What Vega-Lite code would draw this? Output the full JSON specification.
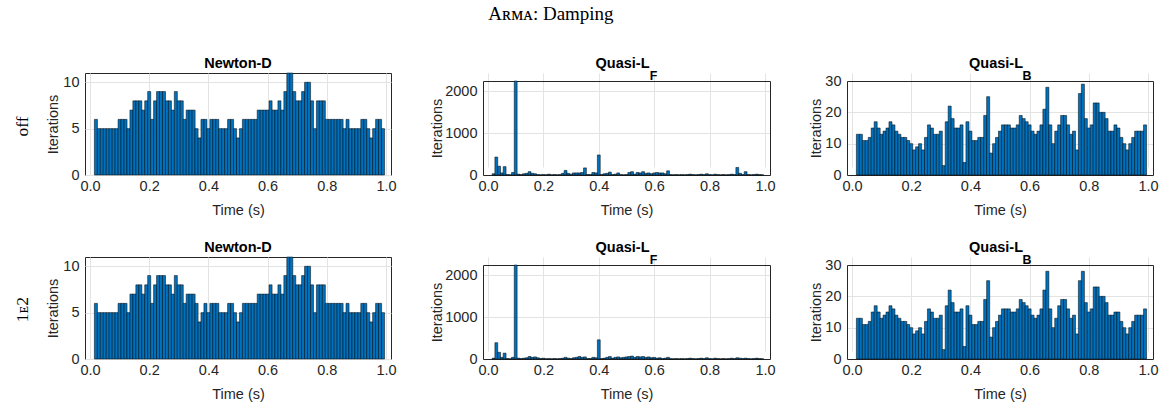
{
"$schema": "https://vega.github.io/schema/vega-lite/v6.json",
"usermeta": {"embedOptions": {"actions": false}},
"background": "white",
"padding": {"left": 13, "top": 5, "right": 2, "bottom": 0},
"title": {"text": "Aʀᴍᴀ: Damping", "font": "Liberation Serif, DejaVu Serif", "fontSize": 19, "fontWeight": "normal", "color": "#000", "anchor": "middle", "offset": 31, "dx": -35},
"config": {
  "font": "Liberation Sans",
  "view": {"stroke": "#262626", "strokeWidth": 1},
  "axis": {"domain": false, "ticks": false, "grid": true, "gridColor": "#e3e3e3", "gridWidth": 1, "labelFont": "Liberation Sans", "labelFontSize": 14.5, "labelColor": "#262626", "titleFont": "Liberation Sans", "titleFontSize": 14.5, "titleFontWeight": "normal", "titleColor": "#262626", "labelFlush": false, "labelOverlap": false, "domainColor": "#262626", "domainWidth": 1},
  "axisX": {"labelPadding": 4, "titlePadding": 11},
  "axisY": {"labelPadding": 6, "titlePadding": 2},
  "bar": {"fill": "#0072BD", "stroke": "#000", "strokeWidth": 0.5}
},
"datasets": {
"nd_off": [{"t":0.02,"n":6},{"t":0.03,"n":5},{"t":0.04,"n":5},{"t":0.05,"n":5},{"t":0.06,"n":5},{"t":0.07,"n":5},{"t":0.08,"n":5},{"t":0.09,"n":5},{"t":0.1,"n":6},{"t":0.11,"n":6},{"t":0.12,"n":6},{"t":0.13,"n":5},{"t":0.14,"n":7},{"t":0.15,"n":8},{"t":0.16,"n":8},{"t":0.17,"n":8},{"t":0.18,"n":7},{"t":0.19,"n":8},{"t":0.2,"n":9},{"t":0.21,"n":6},{"t":0.22,"n":8},{"t":0.23,"n":9},{"t":0.24,"n":9},{"t":0.25,"n":9},{"t":0.26,"n":8},{"t":0.27,"n":8},{"t":0.28,"n":7},{"t":0.29,"n":9},{"t":0.3,"n":8},{"t":0.31,"n":8},{"t":0.32,"n":6},{"t":0.33,"n":7},{"t":0.34,"n":7},{"t":0.35,"n":7},{"t":0.36,"n":5},{"t":0.37,"n":4},{"t":0.38,"n":6},{"t":0.39,"n":6},{"t":0.4,"n":5},{"t":0.41,"n":6},{"t":0.42,"n":6},{"t":0.43,"n":6},{"t":0.44,"n":5},{"t":0.45,"n":5},{"t":0.46,"n":5},{"t":0.47,"n":6},{"t":0.48,"n":6},{"t":0.49,"n":5},{"t":0.5,"n":4},{"t":0.51,"n":5},{"t":0.52,"n":6},{"t":0.53,"n":6},{"t":0.54,"n":6},{"t":0.55,"n":6},{"t":0.56,"n":6},{"t":0.57,"n":7},{"t":0.58,"n":7},{"t":0.59,"n":7},{"t":0.6,"n":7},{"t":0.61,"n":8},{"t":0.62,"n":7},{"t":0.63,"n":7},{"t":0.64,"n":8},{"t":0.65,"n":7},{"t":0.66,"n":9},{"t":0.67,"n":11},{"t":0.68,"n":11},{"t":0.69,"n":9},{"t":0.7,"n":8},{"t":0.71,"n":8},{"t":0.72,"n":9},{"t":0.73,"n":10},{"t":0.74,"n":10},{"t":0.75,"n":8},{"t":0.76,"n":5},{"t":0.77,"n":8},{"t":0.78,"n":8},{"t":0.79,"n":8},{"t":0.8,"n":6},{"t":0.81,"n":6},{"t":0.82,"n":6},{"t":0.83,"n":6},{"t":0.84,"n":6},{"t":0.85,"n":6},{"t":0.86,"n":5},{"t":0.87,"n":6},{"t":0.88,"n":5},{"t":0.89,"n":5},{"t":0.9,"n":5},{"t":0.91,"n":5},{"t":0.92,"n":6},{"t":0.93,"n":6},{"t":0.94,"n":5},{"t":0.95,"n":4},{"t":0.96,"n":5},{"t":0.97,"n":6},{"t":0.98,"n":6},{"t":0.99,"n":5}],
"nd_1e2": [{"t":0.02,"n":6},{"t":0.03,"n":5},{"t":0.04,"n":5},{"t":0.05,"n":5},{"t":0.06,"n":5},{"t":0.07,"n":5},{"t":0.08,"n":5},{"t":0.09,"n":5},{"t":0.1,"n":6},{"t":0.11,"n":6},{"t":0.12,"n":6},{"t":0.13,"n":5},{"t":0.14,"n":7},{"t":0.15,"n":7},{"t":0.16,"n":8},{"t":0.17,"n":8},{"t":0.18,"n":7},{"t":0.19,"n":8},{"t":0.2,"n":9},{"t":0.21,"n":6},{"t":0.22,"n":8},{"t":0.23,"n":9},{"t":0.24,"n":9},{"t":0.25,"n":9},{"t":0.26,"n":8},{"t":0.27,"n":8},{"t":0.28,"n":7},{"t":0.29,"n":9},{"t":0.3,"n":8},{"t":0.31,"n":8},{"t":0.32,"n":6},{"t":0.33,"n":7},{"t":0.34,"n":7},{"t":0.35,"n":7},{"t":0.36,"n":6},{"t":0.37,"n":4},{"t":0.38,"n":5},{"t":0.39,"n":6},{"t":0.4,"n":5},{"t":0.41,"n":6},{"t":0.42,"n":6},{"t":0.43,"n":6},{"t":0.44,"n":5},{"t":0.45,"n":5},{"t":0.46,"n":5},{"t":0.47,"n":6},{"t":0.48,"n":6},{"t":0.49,"n":5},{"t":0.5,"n":4},{"t":0.51,"n":5},{"t":0.52,"n":6},{"t":0.53,"n":6},{"t":0.54,"n":6},{"t":0.55,"n":6},{"t":0.56,"n":6},{"t":0.57,"n":7},{"t":0.58,"n":7},{"t":0.59,"n":7},{"t":0.6,"n":7},{"t":0.61,"n":8},{"t":0.62,"n":7},{"t":0.63,"n":7},{"t":0.64,"n":8},{"t":0.65,"n":7},{"t":0.66,"n":9},{"t":0.67,"n":11},{"t":0.68,"n":11},{"t":0.69,"n":9},{"t":0.7,"n":8},{"t":0.71,"n":8},{"t":0.72,"n":9},{"t":0.73,"n":10},{"t":0.74,"n":10},{"t":0.75,"n":8},{"t":0.76,"n":5},{"t":0.77,"n":8},{"t":0.78,"n":8},{"t":0.79,"n":8},{"t":0.8,"n":6},{"t":0.81,"n":6},{"t":0.82,"n":6},{"t":0.83,"n":6},{"t":0.84,"n":6},{"t":0.85,"n":6},{"t":0.86,"n":5},{"t":0.87,"n":6},{"t":0.88,"n":5},{"t":0.89,"n":5},{"t":0.9,"n":5},{"t":0.91,"n":5},{"t":0.92,"n":6},{"t":0.93,"n":6},{"t":0.94,"n":5},{"t":0.95,"n":4},{"t":0.96,"n":5},{"t":0.97,"n":6},{"t":0.98,"n":6},{"t":0.99,"n":5}],
"lf_off": [{"t":0.02,"n":30},{"t":0.03,"n":430},{"t":0.04,"n":210},{"t":0.05,"n":50},{"t":0.06,"n":200},{"t":0.07,"n":10},{"t":0.08,"n":5},{"t":0.09,"n":60},{"t":0.1,"n":2250},{"t":0.11,"n":20},{"t":0.12,"n":10},{"t":0.13,"n":30},{"t":0.14,"n":40},{"t":0.15,"n":80},{"t":0.16,"n":40},{"t":0.17,"n":30},{"t":0.18,"n":10},{"t":0.19,"n":5},{"t":0.2,"n":10},{"t":0.21,"n":5},{"t":0.22,"n":20},{"t":0.23,"n":5},{"t":0.24,"n":10},{"t":0.25,"n":5},{"t":0.26,"n":10},{"t":0.27,"n":40},{"t":0.28,"n":110},{"t":0.29,"n":40},{"t":0.3,"n":20},{"t":0.31,"n":50},{"t":0.32,"n":50},{"t":0.33,"n":50},{"t":0.34,"n":60},{"t":0.35,"n":170},{"t":0.36,"n":10},{"t":0.37,"n":10},{"t":0.38,"n":60},{"t":0.39,"n":50},{"t":0.4,"n":480},{"t":0.41,"n":10},{"t":0.42,"n":30},{"t":0.43,"n":40},{"t":0.44,"n":70},{"t":0.45,"n":10},{"t":0.46,"n":20},{"t":0.47,"n":50},{"t":0.48,"n":10},{"t":0.49,"n":5},{"t":0.5,"n":10},{"t":0.51,"n":60},{"t":0.52,"n":80},{"t":0.53,"n":20},{"t":0.54,"n":60},{"t":0.55,"n":50},{"t":0.56,"n":80},{"t":0.57,"n":40},{"t":0.58,"n":50},{"t":0.59,"n":30},{"t":0.6,"n":50},{"t":0.61,"n":60},{"t":0.62,"n":50},{"t":0.63,"n":50},{"t":0.64,"n":30},{"t":0.65,"n":100},{"t":0.66,"n":10},{"t":0.67,"n":5},{"t":0.68,"n":10},{"t":0.69,"n":5},{"t":0.7,"n":10},{"t":0.71,"n":5},{"t":0.72,"n":10},{"t":0.73,"n":20},{"t":0.74,"n":10},{"t":0.75,"n":5},{"t":0.76,"n":10},{"t":0.77,"n":20},{"t":0.78,"n":10},{"t":0.79,"n":30},{"t":0.8,"n":10},{"t":0.81,"n":5},{"t":0.82,"n":20},{"t":0.83,"n":10},{"t":0.84,"n":5},{"t":0.85,"n":10},{"t":0.86,"n":5},{"t":0.87,"n":10},{"t":0.88,"n":20},{"t":0.89,"n":10},{"t":0.9,"n":180},{"t":0.91,"n":40},{"t":0.92,"n":10},{"t":0.93,"n":80},{"t":0.94,"n":10},{"t":0.95,"n":5},{"t":0.96,"n":10},{"t":0.97,"n":20},{"t":0.98,"n":10},{"t":0.99,"n":5}],
"lf_1e2": [{"t":0.02,"n":20},{"t":0.03,"n":390},{"t":0.04,"n":160},{"t":0.05,"n":40},{"t":0.06,"n":140},{"t":0.07,"n":10},{"t":0.08,"n":5},{"t":0.09,"n":40},{"t":0.1,"n":2250},{"t":0.11,"n":20},{"t":0.12,"n":10},{"t":0.13,"n":20},{"t":0.14,"n":30},{"t":0.15,"n":60},{"t":0.16,"n":40},{"t":0.17,"n":50},{"t":0.18,"n":30},{"t":0.19,"n":10},{"t":0.2,"n":20},{"t":0.21,"n":5},{"t":0.22,"n":10},{"t":0.23,"n":5},{"t":0.24,"n":10},{"t":0.25,"n":5},{"t":0.26,"n":10},{"t":0.27,"n":20},{"t":0.28,"n":40},{"t":0.29,"n":20},{"t":0.3,"n":10},{"t":0.31,"n":30},{"t":0.32,"n":40},{"t":0.33,"n":60},{"t":0.34,"n":40},{"t":0.35,"n":50},{"t":0.36,"n":10},{"t":0.37,"n":10},{"t":0.38,"n":40},{"t":0.39,"n":30},{"t":0.4,"n":460},{"t":0.41,"n":10},{"t":0.42,"n":20},{"t":0.43,"n":40},{"t":0.44,"n":60},{"t":0.45,"n":20},{"t":0.46,"n":40},{"t":0.47,"n":50},{"t":0.48,"n":30},{"t":0.49,"n":40},{"t":0.5,"n":50},{"t":0.51,"n":60},{"t":0.52,"n":70},{"t":0.53,"n":40},{"t":0.54,"n":60},{"t":0.55,"n":50},{"t":0.56,"n":60},{"t":0.57,"n":40},{"t":0.58,"n":50},{"t":0.59,"n":30},{"t":0.6,"n":40},{"t":0.61,"n":20},{"t":0.62,"n":30},{"t":0.63,"n":10},{"t":0.64,"n":20},{"t":0.65,"n":40},{"t":0.66,"n":10},{"t":0.67,"n":5},{"t":0.68,"n":10},{"t":0.69,"n":5},{"t":0.7,"n":10},{"t":0.71,"n":5},{"t":0.72,"n":10},{"t":0.73,"n":20},{"t":0.74,"n":10},{"t":0.75,"n":5},{"t":0.76,"n":10},{"t":0.77,"n":20},{"t":0.78,"n":10},{"t":0.79,"n":30},{"t":0.8,"n":10},{"t":0.81,"n":5},{"t":0.82,"n":20},{"t":0.83,"n":10},{"t":0.84,"n":5},{"t":0.85,"n":10},{"t":0.86,"n":5},{"t":0.87,"n":10},{"t":0.88,"n":20},{"t":0.89,"n":10},{"t":0.9,"n":30},{"t":0.91,"n":20},{"t":0.92,"n":10},{"t":0.93,"n":20},{"t":0.94,"n":10},{"t":0.95,"n":5},{"t":0.96,"n":10},{"t":0.97,"n":20},{"t":0.98,"n":10},{"t":0.99,"n":5}],
"lb_off": [{"t":0.02,"n":13},{"t":0.03,"n":13},{"t":0.04,"n":11},{"t":0.05,"n":11},{"t":0.06,"n":12},{"t":0.07,"n":15},{"t":0.08,"n":17},{"t":0.09,"n":15},{"t":0.1,"n":13},{"t":0.11,"n":14},{"t":0.12,"n":15},{"t":0.13,"n":17},{"t":0.14,"n":16},{"t":0.15,"n":14},{"t":0.16,"n":13},{"t":0.17,"n":12},{"t":0.18,"n":12},{"t":0.19,"n":11},{"t":0.2,"n":10},{"t":0.21,"n":8},{"t":0.22,"n":9},{"t":0.23,"n":10},{"t":0.24,"n":8},{"t":0.25,"n":12},{"t":0.26,"n":16},{"t":0.27,"n":15},{"t":0.28,"n":13},{"t":0.29,"n":13},{"t":0.3,"n":14},{"t":0.31,"n":3},{"t":0.32,"n":17},{"t":0.33,"n":22},{"t":0.34,"n":18},{"t":0.35,"n":15},{"t":0.36,"n":15},{"t":0.37,"n":16},{"t":0.38,"n":4},{"t":0.39,"n":17},{"t":0.4,"n":14},{"t":0.41,"n":11},{"t":0.42,"n":11},{"t":0.43,"n":12},{"t":0.44,"n":12},{"t":0.45,"n":19},{"t":0.46,"n":25},{"t":0.47,"n":7},{"t":0.48,"n":10},{"t":0.49,"n":12},{"t":0.5,"n":14},{"t":0.51,"n":16},{"t":0.52,"n":16},{"t":0.53,"n":16},{"t":0.54,"n":15},{"t":0.55,"n":15},{"t":0.56,"n":16},{"t":0.57,"n":19},{"t":0.58,"n":18},{"t":0.59,"n":17},{"t":0.6,"n":16},{"t":0.61,"n":14},{"t":0.62,"n":13},{"t":0.63,"n":14},{"t":0.64,"n":16},{"t":0.65,"n":21},{"t":0.66,"n":28},{"t":0.67,"n":16},{"t":0.68,"n":10},{"t":0.69,"n":14},{"t":0.7,"n":16},{"t":0.71,"n":19},{"t":0.72,"n":19},{"t":0.73,"n":16},{"t":0.74,"n":13},{"t":0.75,"n":14},{"t":0.76,"n":8},{"t":0.77,"n":26},{"t":0.78,"n":29},{"t":0.79,"n":18},{"t":0.8,"n":15},{"t":0.81,"n":16},{"t":0.82,"n":23},{"t":0.83,"n":23},{"t":0.84,"n":20},{"t":0.85,"n":20},{"t":0.86,"n":18},{"t":0.87,"n":14},{"t":0.88,"n":14},{"t":0.89,"n":16},{"t":0.9,"n":15},{"t":0.91,"n":12},{"t":0.92,"n":10},{"t":0.93,"n":8},{"t":0.94,"n":10},{"t":0.95,"n":12},{"t":0.96,"n":14},{"t":0.97,"n":14},{"t":0.98,"n":14},{"t":0.99,"n":16}],
"lb_1e2": [{"t":0.02,"n":13},{"t":0.03,"n":13},{"t":0.04,"n":11},{"t":0.05,"n":11},{"t":0.06,"n":12},{"t":0.07,"n":15},{"t":0.08,"n":17},{"t":0.09,"n":15},{"t":0.1,"n":13},{"t":0.11,"n":14},{"t":0.12,"n":15},{"t":0.13,"n":17},{"t":0.14,"n":16},{"t":0.15,"n":14},{"t":0.16,"n":13},{"t":0.17,"n":12},{"t":0.18,"n":12},{"t":0.19,"n":11},{"t":0.2,"n":10},{"t":0.21,"n":8},{"t":0.22,"n":9},{"t":0.23,"n":10},{"t":0.24,"n":8},{"t":0.25,"n":12},{"t":0.26,"n":16},{"t":0.27,"n":15},{"t":0.28,"n":13},{"t":0.29,"n":13},{"t":0.3,"n":14},{"t":0.31,"n":3},{"t":0.32,"n":17},{"t":0.33,"n":22},{"t":0.34,"n":18},{"t":0.35,"n":15},{"t":0.36,"n":15},{"t":0.37,"n":16},{"t":0.38,"n":4},{"t":0.39,"n":17},{"t":0.4,"n":14},{"t":0.41,"n":11},{"t":0.42,"n":11},{"t":0.43,"n":12},{"t":0.44,"n":12},{"t":0.45,"n":19},{"t":0.46,"n":25},{"t":0.47,"n":7},{"t":0.48,"n":10},{"t":0.49,"n":12},{"t":0.5,"n":14},{"t":0.51,"n":16},{"t":0.52,"n":16},{"t":0.53,"n":16},{"t":0.54,"n":15},{"t":0.55,"n":15},{"t":0.56,"n":16},{"t":0.57,"n":19},{"t":0.58,"n":18},{"t":0.59,"n":17},{"t":0.6,"n":16},{"t":0.61,"n":14},{"t":0.62,"n":13},{"t":0.63,"n":14},{"t":0.64,"n":16},{"t":0.65,"n":22},{"t":0.66,"n":28},{"t":0.67,"n":16},{"t":0.68,"n":10},{"t":0.69,"n":13},{"t":0.7,"n":17},{"t":0.71,"n":19},{"t":0.72,"n":19},{"t":0.73,"n":16},{"t":0.74,"n":13},{"t":0.75,"n":14},{"t":0.76,"n":8},{"t":0.77,"n":25},{"t":0.78,"n":28},{"t":0.79,"n":18},{"t":0.8,"n":15},{"t":0.81,"n":16},{"t":0.82,"n":23},{"t":0.83,"n":23},{"t":0.84,"n":20},{"t":0.85,"n":20},{"t":0.86,"n":18},{"t":0.87,"n":14},{"t":0.88,"n":14},{"t":0.89,"n":15},{"t":0.9,"n":15},{"t":0.91,"n":12},{"t":0.92,"n":10},{"t":0.93,"n":8},{"t":0.94,"n":10},{"t":0.95,"n":12},{"t":0.96,"n":14},{"t":0.97,"n":14},{"t":0.98,"n":14},{"t":0.99,"n":16}]
},
"spacing": 21,
"vconcat": [
 {"title": {"text": "\u200b\u00a0\u00a0\u00a0\u00a0\u00a0off", "orient": "left", "font": "Liberation Serif", "fontSize": 17.5, "fontWeight": "normal", "color": "#000", "offset": 14, "anchor": "middle", "dx": -1},
  "spacing": 32,
  "hconcat": [
   {"width": 306, "height": 102, "data": {"name": "nd_off"},
    "title": {"text": "Newton-D", "frame": "group", "font": "Liberation Sans", "fontSize": 14.5, "fontWeight": "bold", "color": "#000", "offset": 1.5},
    "mark": {"type": "bar", "size": 3.06},
    "encoding": {
     "x": {"field": "t", "type": "quantitative", "scale": {"domain": [0, 1], "nice": false}, "axis": {"title": "Time (s)", "values": [0, 0.2, 0.4, 0.6, 0.8, 1], "format": ".1f"}},
     "y": {"field": "n", "type": "quantitative", "scale": {"domain": [0, 11], "nice": false}, "axis": {"title": "Iterations", "values": [0, 5, 10]}}}},
   {"width": 287, "height": 102, "data": {"name": "lf_off"}, "view": {"stroke": null},
    "title": {"text": "Quasi-L", "subtitle": "\u200b\u00a0\u00a0\u00a0\u00a0\u00a0\u00a0\u00a0\u00a0\u00a0\u00a0\u00a0\u00a0\u00a0\u00a0\u00a0\u00a0\u00a0\u00a0F", "frame": "group", "font": "Liberation Sans", "fontSize": 14.5, "fontWeight": "bold", "color": "#000", "subtitleFont": "Liberation Sans", "subtitleFontSize": 12.4, "subtitleFontWeight": "bold", "subtitleColor": "#000", "subtitlePadding": -2, "offset": -10, "dx": -4},
    "layer": [
     {"mark": {"type": "bar", "size": 2.87},
      "encoding": {
       "x": {"field": "t", "type": "quantitative", "scale": {"domain": [0, 1], "nice": false}, "axis": {"title": "Time (s)", "values": [0, 0.2, 0.4, 0.6, 0.8, 1], "format": ".1f", "domain": true}},
       "y": {"field": "n", "type": "quantitative", "scale": {"domain": [0, 2250], "nice": false, "range": [102, 8]}, "axis": {"title": "Iterations", "values": [0, 1000, 2000], "format": "d", "titlePadding": 0, "domain": true}}}},
     {"mark": {"type": "bar", "size": 2.87, "opacity": 0, "strokeWidth": 0},
      "encoding": {
       "x": {"field": "t", "type": "quantitative", "scale": {"domain": [0, 1], "nice": false}, "axis": {"orient": "top", "title": null, "labels": false, "grid": false, "domain": true, "offset": -8}},
       "y": {"field": "n", "type": "quantitative", "scale": {"domain": [0, 2250], "nice": false, "range": [102, 8]}, "axis": {"orient": "right", "title": null, "labels": false, "grid": false, "domain": true}}}}
    ],
    "resolve": {"scale": {"x": "independent", "y": "independent"}, "axis": {"x": "independent", "y": "independent"}}},
   {"width": 306, "height": 102, "data": {"name": "lb_off"}, "view": {"stroke": null},
    "title": {"text": "Quasi-L", "subtitle": "\u200b\u00a0\u00a0\u00a0\u00a0\u00a0\u00a0\u00a0\u00a0\u00a0\u00a0\u00a0\u00a0\u00a0\u00a0\u00a0\u00a0\u00a0\u00a0B", "frame": "group", "font": "Liberation Sans", "fontSize": 14.5, "fontWeight": "bold", "color": "#000", "subtitleFont": "Liberation Sans", "subtitleFontSize": 12.4, "subtitleFontWeight": "bold", "subtitleColor": "#000", "subtitlePadding": -2, "offset": -10, "dx": -4},
    "layer": [
     {"mark": {"type": "bar", "size": 3.06},
      "encoding": {
       "x": {"field": "t", "type": "quantitative", "scale": {"domain": [0, 1], "nice": false}, "axis": {"title": "Time (s)", "values": [0, 0.2, 0.4, 0.6, 0.8, 1], "format": ".1f", "domain": true}},
       "y": {"field": "n", "type": "quantitative", "scale": {"domain": [0, 30], "nice": false, "range": [102, 8]}, "axis": {"title": "Iterations", "values": [0, 10, 20, 30], "titlePadding": 1, "domain": true}}}},
     {"mark": {"type": "bar", "size": 3.06, "opacity": 0, "strokeWidth": 0},
      "encoding": {
       "x": {"field": "t", "type": "quantitative", "scale": {"domain": [0, 1], "nice": false}, "axis": {"orient": "top", "title": null, "labels": false, "grid": false, "domain": true, "offset": -8}},
       "y": {"field": "n", "type": "quantitative", "scale": {"domain": [0, 30], "nice": false, "range": [102, 8]}, "axis": {"orient": "right", "title": null, "labels": false, "grid": false, "domain": true}}}}
    ],
    "resolve": {"scale": {"x": "independent", "y": "independent"}, "axis": {"x": "independent", "y": "independent"}}}
  ]},
 {"title": {"text": "\u200b\u00a0\u00a0\u00a0\u00a01ᴇ2", "orient": "left", "font": "Liberation Serif, DejaVu Serif", "fontSize": 17.5, "fontWeight": "normal", "color": "#000", "offset": 14, "anchor": "middle", "dx": 2},
  "spacing": 32,
  "hconcat": [
   {"width": 306, "height": 102, "data": {"name": "nd_1e2"},
    "title": {"text": "Newton-D", "frame": "group", "font": "Liberation Sans", "fontSize": 14.5, "fontWeight": "bold", "color": "#000", "offset": 1.5},
    "mark": {"type": "bar", "size": 3.06},
    "encoding": {
     "x": {"field": "t", "type": "quantitative", "scale": {"domain": [0, 1], "nice": false}, "axis": {"title": "Time (s)", "values": [0, 0.2, 0.4, 0.6, 0.8, 1], "format": ".1f"}},
     "y": {"field": "n", "type": "quantitative", "scale": {"domain": [0, 11], "nice": false}, "axis": {"title": "Iterations", "values": [0, 5, 10]}}}},
   {"width": 287, "height": 102, "data": {"name": "lf_1e2"}, "view": {"stroke": null},
    "title": {"text": "Quasi-L", "subtitle": "\u200b\u00a0\u00a0\u00a0\u00a0\u00a0\u00a0\u00a0\u00a0\u00a0\u00a0\u00a0\u00a0\u00a0\u00a0\u00a0\u00a0\u00a0\u00a0F", "frame": "group", "font": "Liberation Sans", "fontSize": 14.5, "fontWeight": "bold", "color": "#000", "subtitleFont": "Liberation Sans", "subtitleFontSize": 12.4, "subtitleFontWeight": "bold", "subtitleColor": "#000", "subtitlePadding": -2, "offset": -10, "dx": -4},
    "layer": [
     {"mark": {"type": "bar", "size": 2.87},
      "encoding": {
       "x": {"field": "t", "type": "quantitative", "scale": {"domain": [0, 1], "nice": false}, "axis": {"title": "Time (s)", "values": [0, 0.2, 0.4, 0.6, 0.8, 1], "format": ".1f", "domain": true}},
       "y": {"field": "n", "type": "quantitative", "scale": {"domain": [0, 2250], "nice": false, "range": [102, 8]}, "axis": {"title": "Iterations", "values": [0, 1000, 2000], "format": "d", "titlePadding": 0, "domain": true}}}},
     {"mark": {"type": "bar", "size": 2.87, "opacity": 0, "strokeWidth": 0},
      "encoding": {
       "x": {"field": "t", "type": "quantitative", "scale": {"domain": [0, 1], "nice": false}, "axis": {"orient": "top", "title": null, "labels": false, "grid": false, "domain": true, "offset": -8}},
       "y": {"field": "n", "type": "quantitative", "scale": {"domain": [0, 2250], "nice": false, "range": [102, 8]}, "axis": {"orient": "right", "title": null, "labels": false, "grid": false, "domain": true}}}}
    ],
    "resolve": {"scale": {"x": "independent", "y": "independent"}, "axis": {"x": "independent", "y": "independent"}}},
   {"width": 306, "height": 102, "data": {"name": "lb_1e2"}, "view": {"stroke": null},
    "title": {"text": "Quasi-L", "subtitle": "\u200b\u00a0\u00a0\u00a0\u00a0\u00a0\u00a0\u00a0\u00a0\u00a0\u00a0\u00a0\u00a0\u00a0\u00a0\u00a0\u00a0\u00a0\u00a0B", "frame": "group", "font": "Liberation Sans", "fontSize": 14.5, "fontWeight": "bold", "color": "#000", "subtitleFont": "Liberation Sans", "subtitleFontSize": 12.4, "subtitleFontWeight": "bold", "subtitleColor": "#000", "subtitlePadding": -2, "offset": -10, "dx": -4},
    "layer": [
     {"mark": {"type": "bar", "size": 3.06},
      "encoding": {
       "x": {"field": "t", "type": "quantitative", "scale": {"domain": [0, 1], "nice": false}, "axis": {"title": "Time (s)", "values": [0, 0.2, 0.4, 0.6, 0.8, 1], "format": ".1f", "domain": true}},
       "y": {"field": "n", "type": "quantitative", "scale": {"domain": [0, 30], "nice": false, "range": [102, 8]}, "axis": {"title": "Iterations", "values": [0, 10, 20, 30], "titlePadding": 1, "domain": true}}}},
     {"mark": {"type": "bar", "size": 3.06, "opacity": 0, "strokeWidth": 0},
      "encoding": {
       "x": {"field": "t", "type": "quantitative", "scale": {"domain": [0, 1], "nice": false}, "axis": {"orient": "top", "title": null, "labels": false, "grid": false, "domain": true, "offset": -8}},
       "y": {"field": "n", "type": "quantitative", "scale": {"domain": [0, 30], "nice": false, "range": [102, 8]}, "axis": {"orient": "right", "title": null, "labels": false, "grid": false, "domain": true}}}}
    ],
    "resolve": {"scale": {"x": "independent", "y": "independent"}, "axis": {"x": "independent", "y": "independent"}}}
  ]}
]
}
